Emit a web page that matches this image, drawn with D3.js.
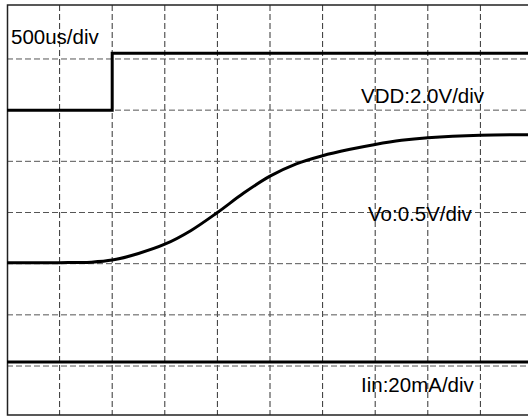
<!DOCTYPE html>
<html>
<head>
<meta charset="utf-8">
<script src="https://cdn.jsdelivr.net/npm/d3@7"></script>
<style>
  body { margin: 0; background: #fff; }
  svg { display: block; }
  .label { font-family: "Liberation Sans", Arial, Helvetica, sans-serif; font-size: 20.5px; fill: #000; }
</style>
</head>
<body>
<div id="scope"></div>
<script>
// grid divisions
var xDivs = d3.range(1, 10);
var yDivs = d3.range(1, 8);

// traces, in divisions
var vddTime = [0, 2, 2, 10];
var vddLevel = [6.0, 6.0, 7.11, 7.11];

var voTime  = [0, 1, 1.6, 2, 2.5, 3, 3.5, 4, 4.5, 5, 5.5, 6, 6.5, 7, 7.5, 8, 9, 10];
var voLevel = [3.02, 3.02, 3.03, 3.07, 3.2, 3.38, 3.65, 4.0, 4.38, 4.71, 4.95, 5.11, 5.23, 5.33, 5.41, 5.46, 5.51, 5.52];

var iinTime = [0, 10];
var iinLevel = [1.08, 1.08];

var labels = ["500us/div", "VDD:2.0V/div", "Vo:0.5V/div", "Iin:20mA/div"];

var width = 528, height = 417;

var svg = d3.select("#scope").append("svg")
    .attr("width", width)
    .attr("height", height);

var x = d3.scaleLinear().domain([0, 10]).range([7, 533]);
var y = d3.scaleLinear().domain([0, 8]).range([417.2, 7.8]);

// grid
svg.append("g")
  .selectAll("line")
  .data(xDivs)
  .enter().append("line")
  .attr("x1", function(d) { return x(d); })
  .attr("x2", function(d) { return x(d); })
  .attr("y1", 5)
  .attr("y2", 415)
  .attr("stroke", "#333")
  .attr("stroke-width", 1)
  .attr("stroke-dasharray", "6,3");

svg.append("g")
  .selectAll("line")
  .data(yDivs)
  .enter().append("line")
  .attr("x1", 7)
  .attr("x2", width)
  .attr("y1", function(d) { return y(d); })
  .attr("y2", function(d) { return y(d); })
  .attr("stroke", "#555")
  .attr("stroke-width", 1)
  .attr("stroke-dasharray", "6,3");

// frame (right edge is outside the picture)
svg.append("path")
  .attr("d", "M" + (width + 10) + ",5 H7.5 V415 H" + (width + 10))
  .attr("fill", "none")
  .attr("stroke", "#222")
  .attr("stroke-width", 1.5);

function zipPts(t, v) {
  return t.map(function(d, i) { return [d, v[i]]; });
}

var line = d3.line()
    .x(function(d) { return x(d[0]); })
    .y(function(d) { return y(d[1]); });

var smooth = d3.line()
    .x(function(d) { return x(d[0]); })
    .y(function(d) { return y(d[1]); })
    .curve(d3.curveCatmullRom.alpha(0.5));

svg.append("path")
  .attr("d", line(zipPts(vddTime, vddLevel)))
  .attr("fill", "none")
  .attr("stroke", "#000")
  .attr("stroke-width", 3);

svg.append("path")
  .attr("d", smooth(zipPts(voTime, voLevel)))
  .attr("fill", "none")
  .attr("stroke", "#000")
  .attr("stroke-width", 3);

svg.append("path")
  .attr("d", line(zipPts(iinTime, iinLevel)))
  .attr("fill", "none")
  .attr("stroke", "#000")
  .attr("stroke-width", 3);

// labels
var labelPos = [[11, 44], [361, 103], [368, 221], [361, 392]];
svg.append("g")
  .selectAll("text")
  .data(labels)
  .enter().append("text")
  .attr("class", "label")
  .attr("x", function(d, i) { return labelPos[i][0]; })
  .attr("y", function(d, i) { return labelPos[i][1]; })
  .text(function(d) { return d; });
</script>
</body>
</html>
